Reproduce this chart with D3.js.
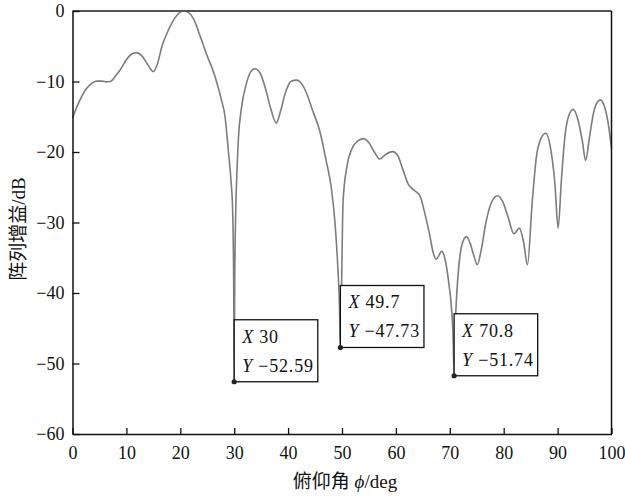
<!DOCTYPE html>
<html>
<head>
    <meta charset="utf-8">
    <title>阵列增益</title>
    <script src="https://d3js.org/d3.v7.min.js"></script>
    <style>
        body {
            margin: 0;
            background: #fff;
        }
        .tick text {
            font-family: "Liberation Serif", "DejaVu Serif", serif;
            font-size: 18px;
            fill: #111;
        }
        .title {
            font-family: "Liberation Serif", "Noto Sans CJK SC", serif;
            font-size: 19px;
            fill: #111;
        }
        .tip text {
            font-family: "Liberation Serif", "DejaVu Serif", serif;
            font-size: 18px;
            fill: #111;
        }
    </style>
</head>
<body>
    <div id="chart"></div>

    <script>
        // elevation angle (deg) and array gain (dB)
        const phiDeg = [
            0, 0.7, 1.4, 2.6, 3.5, 4.5, 5.5, 6.3, 7, 8, 8.8, 10, 11, 11.9, 12.8, 13.8, 15,
            15.8, 16.6, 17.5, 18.5, 19.5, 20.6, 21.5, 22.5, 23.7, 24.9, 26, 26.8, 27.6, 28.3,
            28.9, 29.4, 29.7, 29.9, 30, 30.1, 30.3, 30.55, 30.8, 31.3, 32.3, 33, 33.8, 34.8,
            35.8, 36.8, 37.8, 38.6, 39.5, 40.5, 41.6, 42.5, 43.5, 44.5, 45.9, 47, 48, 48.7,
            49.2, 49.5, 49.7, 49.9, 50.2, 50.9, 51.8, 52.8, 54, 55, 56, 57, 58, 59.4, 60.4,
            61.3, 62.3, 63.5, 64.5, 65.3, 66.2, 67, 67.5, 68.5, 69.2, 69.8, 70.3, 70.6, 70.8,
            71, 71.3, 71.7, 72.3, 73.1, 73.8, 74.5, 75.1, 75.8, 76.7, 77.7, 78.8, 79.8, 80.8,
            81.9, 82.9, 83.7, 84.4, 85.3, 86.1, 86.8, 87.8, 88.7, 89.5, 90.1, 90.7, 91.4,
            92.1, 92.9, 93.8, 94.6, 95.2, 95.9, 96.8, 97.9, 98.8, 99.5, 100
        ];
        const gainDb = [
            -15.2, -13.8, -12.6, -11.0, -10.3, -9.95, -9.95, -10.05, -10.0, -9.2, -8.4, -6.9, -6.1, -5.9, -6.3, -7.4, -8.6,
            -7.4, -5.0, -3.2, -1.6, -0.5, 0, -0.2, -1.2, -3.6, -6.2, -8.3, -10.2, -12.5, -15,
            -19.7, -24, -28, -38, -52.59, -38, -28, -22, -17.8, -14, -10.2, -8.7, -8.2, -8.8,
            -11.0, -13.9, -15.9, -14.2, -11.6, -10.0, -9.8, -10.3, -11.8, -14.0, -17.1, -21, -25, -30,
            -36, -41, -47.73, -40, -27, -22.1, -19.6, -18.5, -18.1, -18.7, -20.0, -21.0, -20.4, -19.95, -20.6,
            -22.5, -24.6, -25.5, -26.3, -28.5, -31.5, -34.5, -35.2, -34.1, -35.5, -38.5, -42, -46, -51.74,
            -45, -40, -36, -33, -32.0, -33.0, -34.8, -36.0, -34.0, -30.0, -27.2, -26.2, -27.0, -29.2,
            -31.6, -30.8, -32.8, -36.0, -27, -20.5, -18.3, -17.35, -19.5, -24.5, -30.8, -24, -17.5,
            -14.8, -13.95, -15.5, -18.5, -21.2, -18, -14, -12.6, -13.8, -16.5, -19.5
        ];

        const xTicks = [0, 10, 20, 30, 40, 50, 60, 70, 80, 90, 100];
        const yTicks = [0, -10, -20, -30, -40, -50, -60];

        // data tips shown on the nulls
        const tipX = [30, 49.7, 70.8];
        const tipY = [-52.59, -47.73, -51.74];

        const width = 625, height = 496;
        const margin = {top: 11, right: 13.5, bottom: 62, left: 72.5};
        const innerW = width - margin.left - margin.right;
        const innerH = height - margin.top - margin.bottom;

        const svg = d3.select('#chart')
            .append('svg')
            .attr('width', width)
            .attr('height', height);

        const g = svg.append('g')
            .attr('transform', `translate(${margin.left},${margin.top})`);

        const x = d3.scaleLinear().domain([0, 100]).range([0, innerW]);
        const y = d3.scaleLinear().domain([-60, 0]).range([innerH, 0]);

        const minus = v => String(v).replace('-', '\u2212');

        // curve
        const line = d3.line()
            .x((d, i) => x(phiDeg[i]))
            .y(d => y(d))
            .curve(d3.curveMonotoneX);

        g.append('path')
            .datum(gainDb)
            .attr('d', line)
            .attr('fill', 'none')
            .attr('stroke', '#7c7c7c')
            .attr('stroke-width', 1.6);

        // frame: top and right
        g.append('line')
            .attr('x1', 0).attr('x2', innerW)
            .attr('y1', 0).attr('y2', 0)
            .attr('stroke', '#555').attr('stroke-width', 2);
        g.append('line')
            .attr('x1', innerW).attr('x2', innerW)
            .attr('y1', 0).attr('y2', innerH)
            .attr('stroke', '#111').attr('stroke-width', 1.5);

        // axes, ticks pointing inward
        const xAxis = g.append('g')
            .attr('transform', `translate(0,${innerH})`)
            .call(d3.axisBottom(x).tickValues(xTicks).tickSize(-6).tickPadding(12).tickSizeOuter(0));
        const yAxis = g.append('g')
            .call(d3.axisLeft(y).tickValues(yTicks).tickSize(-7).tickPadding(8).tickSizeOuter(0)
                .tickFormat(minus));

        [xAxis, yAxis].forEach(a => {
            a.select('.domain').attr('stroke', '#111').attr('stroke-width', 1.5);
            a.selectAll('.tick line').attr('stroke', '#111').attr('stroke-width', 1.3);
        });

        // axis titles
        const xt = svg.append('text')
            .attr('class', 'title')
            .attr('x', 345)
            .attr('y', 488)
            .attr('text-anchor', 'middle');
        xt.append('tspan').text('俯仰角 ');
        xt.append('tspan').attr('font-style', 'italic').text('\u03D5');
        xt.append('tspan').text('/deg');

        svg.append('text')
            .attr('class', 'title')
            .attr('transform', 'translate(25,229) rotate(-90)')
            .attr('text-anchor', 'middle')
            .text('阵列增益/dB');

        // data tips
        const tips = g.selectAll('.tip')
            .data(tipX)
            .join('g')
            .attr('class', 'tip')
            .attr('transform', (d, i) => `translate(${x(d)},${y(tipY[i])})`);

        tips.append('rect')
            .attr('x', 0)
            .attr('y', -62)
            .attr('height', 62)
            .attr('fill', '#fff')
            .attr('stroke', '#111')
            .attr('stroke-width', 1.3);

        const lines = [
            (d, i) => ['X', ' ' + d],
            (d, i) => ['Y', ' ' + minus(tipY[i])]
        ];
        lines.forEach((fn, k) => {
            const t = tips.append('text')
                .attr('class', 'tip-line')
                .attr('x', 8)
                .attr('y', k === 0 ? -39 : -10)
                .attr('letter-spacing', '0.8px');
            t.append('tspan').attr('font-style', 'italic').text((d, i) => fn(d, i)[0]);
            t.append('tspan').text((d, i) => fn(d, i)[1]);
        });

        tips.each(function() {
            let w = 0;
            d3.select(this).selectAll('.tip-line').each(function() {
                w = Math.max(w, this.getComputedTextLength());
            });
            d3.select(this).select('rect').attr('width', w + 12);
        });

        tips.append('circle')
            .attr('r', 2.6)
            .attr('fill', '#222');
    </script>
</body>
</html>
